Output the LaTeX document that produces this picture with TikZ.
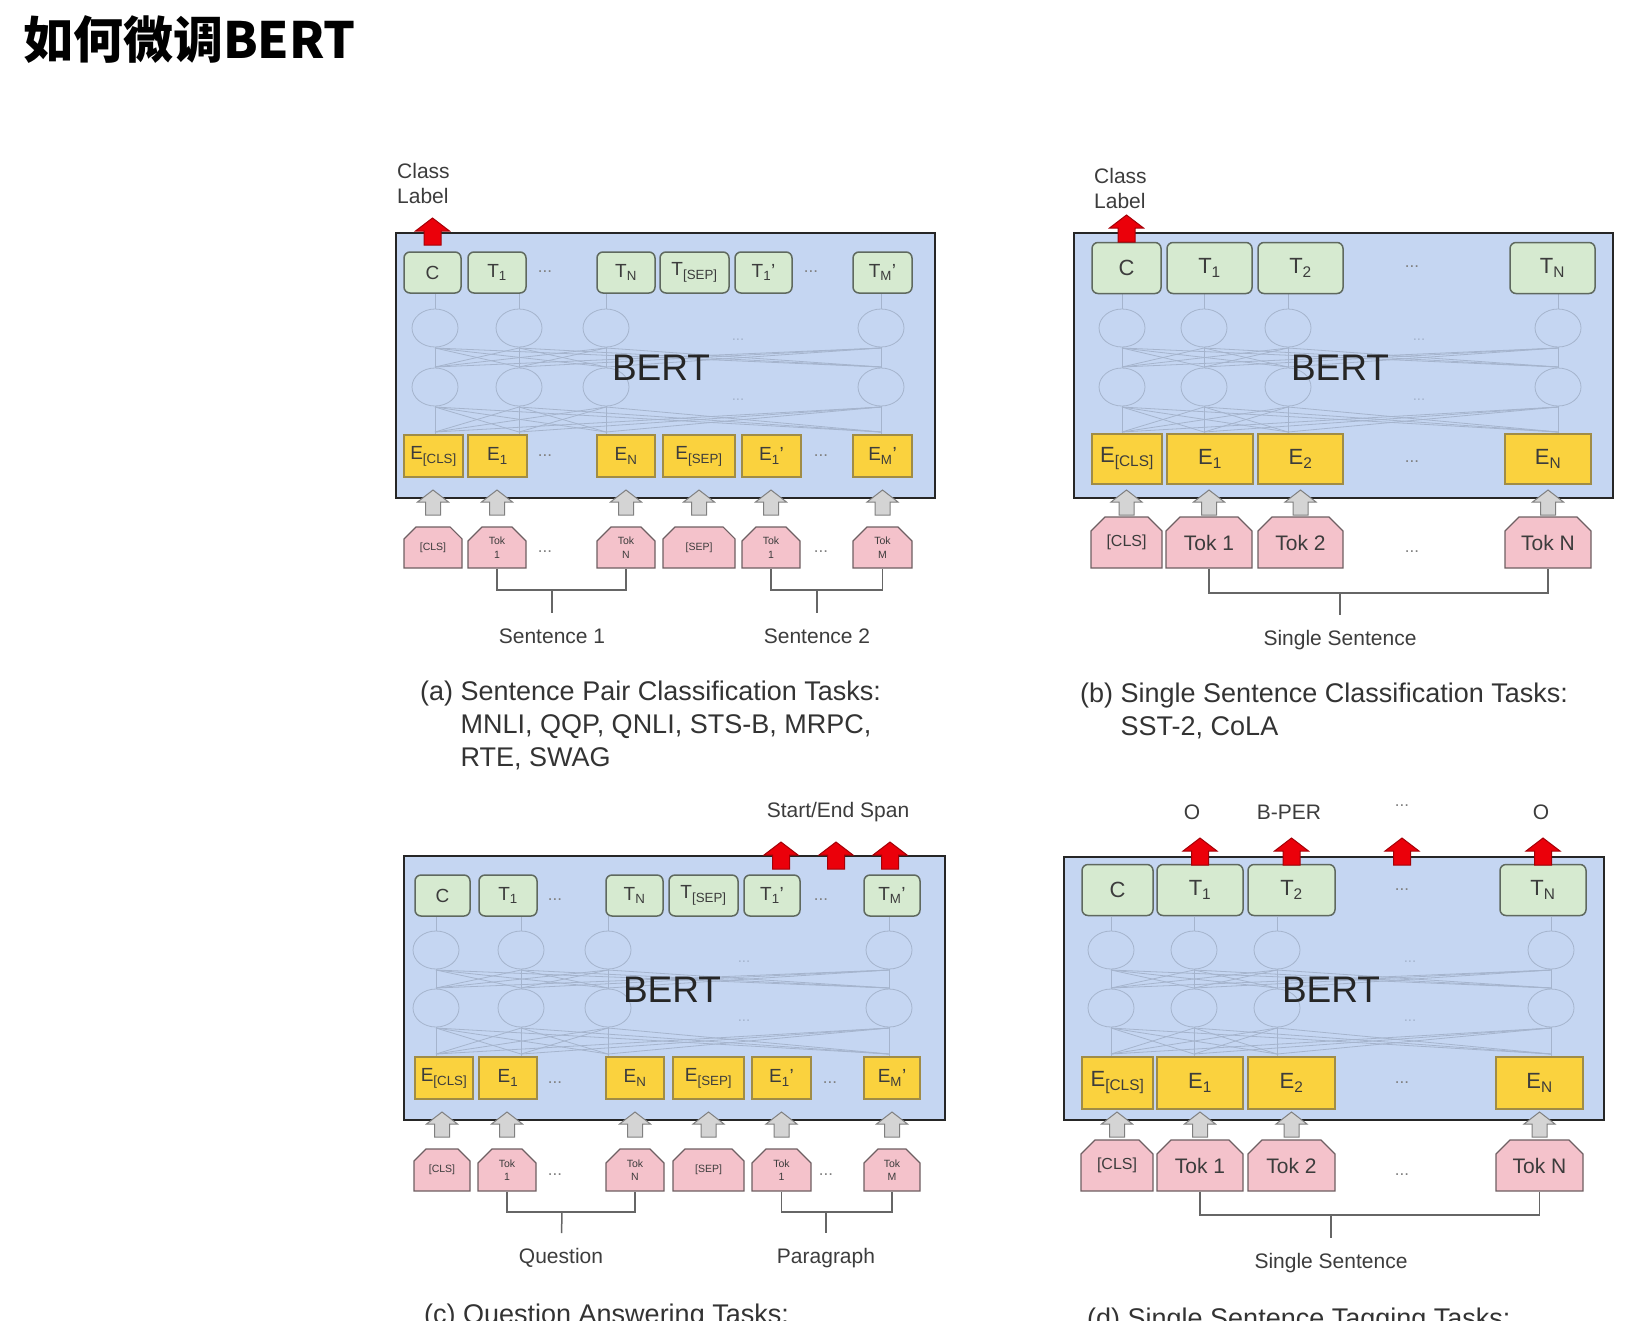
\documentclass[tikz,border=0pt]{standalone}
\usepackage{fontspec}
\setmainfont{Liberation Sans}
\newfontfamily\cjk{Noto Sans CJK SC}
\usetikzlibrary{shapes.misc,positioning}

\definecolor{bertblue}{RGB}{197,214,242}
\definecolor{outgreen}{RGB}{214,234,208}
\definecolor{outedge}{RGB}{95,105,95}
\definecolor{embyellow}{RGB}{250,210,62}
\definecolor{embedge}{RGB}{160,140,70}
\definecolor{tokpink}{RGB}{244,194,203}
\definecolor{tokedge}{RGB}{110,95,98}
\definecolor{netgray}{RGB}{165,180,205}
\definecolor{txtgray}{RGB}{60,60,60}
\definecolor{arrowred}{RGB}{235,0,10}
\definecolor{arrowgray}{RGB}{212,212,212}

\tikzset{
  bertbox/.style={draw=black!85, line width=2.8pt, fill=bertblue, inner sep=0},
  berttxt/.style={inner sep=0, text=black!85, font=\fontsize{37}{44}\selectfont},
  outbox/.style={draw=outedge, line width=1.5pt, fill=outgreen, rounded corners=6pt, inner sep=0, text=txtgray},
  embbox/.style={draw=embedge, line width=1.2pt, fill=embyellow, inner sep=0, text=txtgray},
  tokbox/.style={chamfered rectangle, chamfered rectangle corners={north west,north east},
    chamfered rectangle xsep=7pt, chamfered rectangle ysep=7pt,
    draw=tokedge, line width=1.2pt, fill=tokpink, inner sep=0, text=txtgray, align=center},
  smalltxt/.style={font=\fontsize{19}{21}\selectfont},
  bigtxt/.style={font=\fontsize{22}{25}\selectfont},
  tinytxt/.style={font=\fontsize{10.5}{13.5}\selectfont},
  dots/.style={inner sep=0, text=black!50, font=\fontsize{17}{20}\selectfont},
  netdots/.style={inner sep=0, text=netgray, font=\fontsize{15}{18}\selectfont},
  net/.style={draw=netgray, line width=0.8pt},
  lbl/.style={inner sep=0, text=txtgray, font=\fontsize{21}{25}\selectfont},
  captxt/.style={inner sep=0, text=black!80, align=left, anchor=north west, font=\fontsize{27}{33}\selectfont},
  bracket/.style={draw=black!60, line width=1.5pt},
  grayup/.pic={\filldraw[fill=arrowgray, draw=black!50, line width=1pt]
    (0,0) -- (15.5,12) -- (7.5,12) -- (7.5,25) -- (-7.5,25) -- (-7.5,12) -- (-15.5,12) -- cycle;},
  redup/.pic={\filldraw[fill=arrowred, draw=arrowred!70!black, line width=1pt]
    (0,0) -- (17,13) -- (8.5,13) -- (8.5,27) -- (-8.5,27) -- (-8.5,13) -- (-17,13) -- cycle;}
}

% the faint layers inside a BERT box
\newcommand\bertnet[7]{%
  \foreach \cx in {#2} {
    \draw[net] (\cx,#3) ellipse (23 and 19) (\cx,#4) ellipse (23 and 19);
    \draw[net] (\cx,#5) -- (\cx,#3-19) (\cx,#3+19) -- (\cx,#4-19) (\cx,#4+19) -- (\cx,#6);
    \foreach \cy in {#2}
      \draw[net] (\cx,#3+20) -- (\cy,#4-20) (\cx,#4+20) -- (\cy,#6-3);
  }
  \node[netdots] (#1netA) at (#7,#3+12) {...};
  \node[netdots] (#1netB) at (#7,#4+13) {...};
}

\begin{document}
\begin{tikzpicture}[x=1pt,y=-1pt]
\useasboundingbox (0,0) rectangle (1629,1320);
\clip (0,0) rectangle (1629,1320);

\node[anchor=west, inner sep=0, font=\cjk\bfseries\fontsize{50}{58}\selectfont] (title) at (23,40) {如何微调BERT};

%% (a) sentence pair classification
\node[bertbox, minimum width=539, minimum height=265] (abox) at (665.5,365.5) {};
\bertnet{a}{435,519,606,881}{328}{387}{293}{435}{738}
\node[berttxt] (abert) at (661,368) {BERT};
\foreach \nm/\xa/\xb/\txt in {aC/404/461/C, aT1/468/526/T\textsubscript{1}, aTN/597/655/T\textsubscript{N},
    aTS/660/729/T\textsubscript{[SEP]}, aT1p/735/792/T\textsubscript{1}', aTMp/853/912/T\textsubscript{M}'}
  \node[outbox, smalltxt, minimum width={\xb-\xa}, minimum height=41] (\nm) at ({(\xa+\xb)/2},272.5) {\txt};
\foreach \nm/\xa/\xb/\txt in {aE0/404/463/E\textsubscript{[CLS]}, aE1/468/527/E\textsubscript{1}, aEN/597/655/E\textsubscript{N},
    aES/663/735/E\textsubscript{[SEP]}, aE1p/742/801/E\textsubscript{1}', aEMp/853/912/E\textsubscript{M}'}
  \node[embbox, smalltxt, minimum width={\xb-\xa}, minimum height=42] (\nm) at ({(\xa+\xb)/2},456) {\txt};
\foreach \nm/\xa/\xb/\txt in {aK0/404/462/[CLS], aK1/468/526/Tok\\1, aKN/597/655/Tok\\N,
    aKS/663/735/[SEP], aK1p/742/800/Tok\\1, aKMp/853/912/Tok\\M}
  \node[tokbox, tinytxt, minimum width={\xb-\xa}, minimum height=41] (\nm) at ({(\xa+\xb)/2},547.5) {\txt};
\node[dots] (adot1) at (545,272) {...};
\node[dots] (adot2) at (811,272) {...};
\node[dots] (adot3) at (545,456) {...};
\node[dots] (adot4) at (821,456) {...};
\node[dots] (adot5) at (545,552) {...};
\node[dots] (adot6) at (821,552) {...};
\foreach \nm in {aK0,aK1,aKN,aKS,aK1p,aKMp}
  \pic at (\nm.north |- 0,490) {grayup};
\pic at (aC.north |- 0,218) {redup};
\node[lbl, align=left, anchor=north west] (aclass) at (397,163) {Class\\Label};
\coordinate (abr1) at (552,590);
\coordinate (abr2) at (817,590);
\node[lbl] (asent1) at (552,636) {Sentence 1};
\node[lbl] (asent2) at (817,636) {Sentence 2};
\draw[bracket] (aK1.south) |- (abr1) -| (aKN.south);
\draw[bracket] (aK1p.south) |- (abr2) -| (aKMp.south);
\draw[bracket, shorten >=15pt] (abr1) -- (asent1);
\draw[bracket, shorten >=15pt] (abr2) -- (asent2);
\node[captxt] (acap) at (420,681) {(a) Sentence Pair Classification Tasks:\\
  \hphantom{(a)~}MNLI, QQP, QNLI, STS-B, MRPC,\\ \hphantom{(a)~}RTE, SWAG};

%% (b) single sentence classification
\node[bertbox, minimum width=539, minimum height=265] (bbox) at (1343.5,365.5) {};
\bertnet{b}{1122,1204,1288,1558}{328}{387}{294}{435}{1419}
\node[berttxt] (bbert) at (1340,368) {BERT};
\foreach \nm/\xa/\xb/\txt in {bC/1092/1161/C, bT1/1167/1252/T\textsubscript{1}, bT2/1258/1343/T\textsubscript{2},
    bTN/1510/1595/T\textsubscript{N}}
  \node[outbox, bigtxt, minimum width={\xb-\xa}, minimum height=51] (\nm) at ({(\xa+\xb)/2},268) {\txt};
\foreach \nm/\xa/\xb/\txt in {bE0/1092/1162/E\textsubscript{[CLS]}, bE1/1167/1253/E\textsubscript{1}, bE2/1258/1343/E\textsubscript{2},
    bEN/1505/1591/E\textsubscript{N}}
  \node[embbox, bigtxt, minimum width={\xb-\xa}, minimum height=50] (\nm) at ({(\xa+\xb)/2},459) {\txt};
\foreach \nm/\xa/\xb/\txt in {bK0/1091/1162/{\fontsize{16}{18}\selectfont[CLS]}, bK1/1166/1252/Tok 1, bK2/1258/1343/Tok 2,
    bKN/1505/1591/Tok N}
  \node[tokbox, lbl, minimum width={\xb-\xa}, minimum height=51] (\nm) at ({(\xa+\xb)/2},542.5) {\txt};
\node[dots] (bdot1) at (1412,267) {...};
\node[dots] (bdot2) at (1412,462) {...};
\node[dots] (bdot3) at (1412,552) {...};
\foreach \nm in {bK0,bK1,bK2,bKN}
  \pic at (\nm.north |- 0,490) {grayup};
\pic at (bC.north |- 0,215) {redup};
\node[lbl, align=left, anchor=north west] (bclass) at (1094,168) {Class\\Label};
\coordinate (bbr) at (1340,593);
\node[lbl] (bsent) at (1340,640) {Single Sentence};
\draw[bracket] (bK1.south) |- (bbr) -| (bKN.south);
\draw[bracket, shorten >=15pt] (bbr) -- (bsent);
\node[captxt] (bcap) at (1080,683) {(b) Single Sentence Classification Tasks:\\
  \hphantom{(b)~}SST-2, CoLA};

%% (c) question answering
\node[bertbox, minimum width=541, minimum height=264] (cbox) at (674.5,988) {};
\bertnet{c}{436,521,608,889}{950}{1008}{916}{1057}{744}
\node[berttxt] (cbert) at (672,990) {BERT};
\foreach \nm/\xa/\xb/\txt in {cC/415/470/C, cT1/479/537/T\textsubscript{1}, cTN/606/663/T\textsubscript{N},
    cTS/669/738/T\textsubscript{[SEP]}, cT1p/744/800/T\textsubscript{1}', cTMp/864/920/T\textsubscript{M}'}
  \node[outbox, smalltxt, minimum width={\xb-\xa}, minimum height=41] (\nm) at ({(\xa+\xb)/2},895.5) {\txt};
\foreach \nm/\xa/\xb/\txt in {cE0/415/473/E\textsubscript{[CLS]}, cE1/479/537/E\textsubscript{1}, cEN/606/664/E\textsubscript{N},
    cES/673/744/E\textsubscript{[SEP]}, cE1p/752/811/E\textsubscript{1}', cEMp/864/920/E\textsubscript{M}'}
  \node[embbox, smalltxt, minimum width={\xb-\xa}, minimum height=42] (\nm) at ({(\xa+\xb)/2},1078) {\txt};
\foreach \nm/\xa/\xb/\txt in {cK0/414/470/[CLS], cK1/478/536/Tok\\1, cKN/606/664/Tok\\N,
    cKS/673/744/[SEP], cK1p/752/811/Tok\\1, cKMp/864/920/Tok\\M}
  \node[tokbox, tinytxt, minimum width={\xb-\xa}, minimum height=42] (\nm) at ({(\xa+\xb)/2},1170) {\txt};
\node[dots] (cdot1) at (555,900) {...};
\node[dots] (cdot2) at (821,900) {...};
\node[dots] (cdot3) at (555,1083) {...};
\node[dots] (cdot4) at (830,1083) {...};
\node[dots] (cdot5) at (555,1175) {...};
\node[dots] (cdot6) at (826,1175) {...};
\foreach \nm in {cK0,cK1,cKN,cKS,cK1p,cKMp}
  \pic at (\nm.north |- 0,1112) {grayup};
\foreach \xx in {781,836,890}
  \pic at (\xx,842) {redup};
\node[lbl] (cspan) at (838,812) {Start/End Span};
\coordinate (cbr1) at (562,1212);
\coordinate (cbr2) at (826,1212);
\node[lbl] (cques) at (561,1258) {Question};
\node[lbl] (cpara) at (826,1258) {Paragraph};
\draw[bracket] (cK1.south) |- (cbr1) -| (cKN.south);
\draw[bracket] (cK1p.south) |- (cbr2) -| (cKMp.south);
\draw[bracket, shorten >=15pt] (cbr1) -- (cques);
\draw[bracket, shorten >=15pt] (cbr2) -- (cpara);
\node[captxt] (ccap) at (424,1304) {(c) Question Answering Tasks:};

%% (d) single sentence tagging
\node[bertbox, minimum width=540, minimum height=263] (dbox) at (1334,988.5) {};
\bertnet{d}{1111,1194,1277,1551}{950}{1008}{917}{1057}{1410}
\node[berttxt] (dbert) at (1331,990) {BERT};
\foreach \nm/\xa/\xb/\txt in {dC/1082/1153/C, dT1/1157/1243/T\textsubscript{1}, dT2/1248/1335/T\textsubscript{2},
    dTN/1500/1586/T\textsubscript{N}}
  \node[outbox, bigtxt, minimum width={\xb-\xa}, minimum height=51] (\nm) at ({(\xa+\xb)/2},890) {\txt};
\foreach \nm/\xa/\xb/\txt in {dE0/1082/1153/E\textsubscript{[CLS]}, dE1/1157/1243/E\textsubscript{1}, dE2/1248/1335/E\textsubscript{2},
    dEN/1496/1583/E\textsubscript{N}}
  \node[embbox, bigtxt, minimum width={\xb-\xa}, minimum height=52] (\nm) at ({(\xa+\xb)/2},1083) {\txt};
\foreach \nm/\xa/\xb/\txt in {dK0/1081/1153/{\fontsize{16}{18}\selectfont[CLS]}, dK1/1157/1243/Tok 1, dK2/1248/1335/Tok 2,
    dKN/1496/1583/Tok N}
  \node[tokbox, lbl, minimum width={\xb-\xa}, minimum height=51] (\nm) at ({(\xa+\xb)/2},1165.5) {\txt};
\node[dots] (ddot1) at (1402,890) {...};
\node[dots] (ddot2) at (1402,1083) {...};
\node[dots] (ddot3) at (1402,1175) {...};
\foreach \nm in {dK0,dK1,dK2,dKN}
  \pic at (\nm.north |- 0,1112) {grayup};
\foreach \nm in {dT1,dT2,ddot1,dTN}
  \pic at (\nm.north |- 0,838) {redup};
\node[lbl] (dtag1) at (1192,812) {O};
\node[lbl] (dtag2) at (1289,812) {B-PER};
\node[dots] (dtag3) at (1402,806) {...};
\node[lbl] (dtag4) at (1541,812) {O};
\coordinate (dbr) at (1331,1215);
\node[lbl] (dsent) at (1331,1263) {Single Sentence};
\draw[bracket] (dK1.south) |- (dbr) -| (dKN.south);
\draw[bracket, shorten >=15pt] (dbr) -- (dsent);
\node[captxt] (dcap) at (1087,1308) {(d) Single Sentence Tagging Tasks:};
\end{tikzpicture}
\end{document}
